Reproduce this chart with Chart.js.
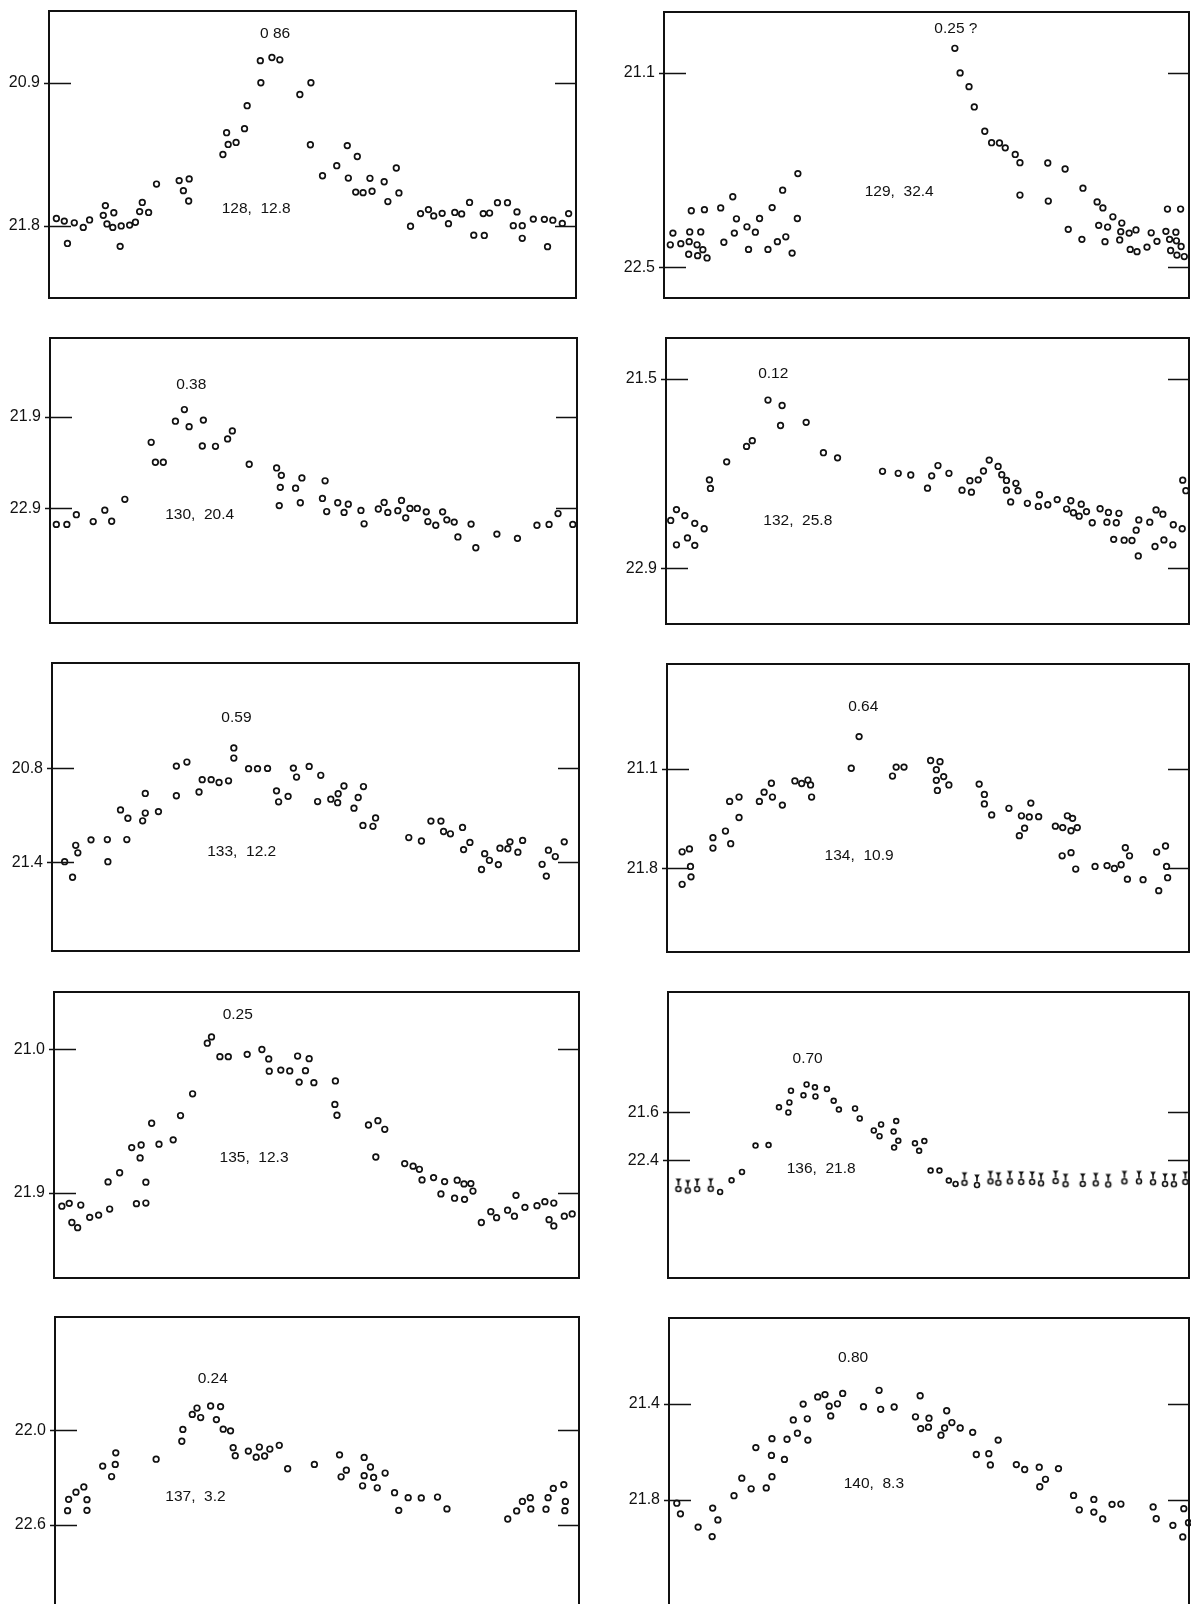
<!DOCTYPE html>
<html>
<head>
<meta charset="utf-8">
<script src="https://cdn.jsdelivr.net/npm/chart.js@4.4.1/dist/chart.umd.min.js"></script>
<style>
  html, body { margin: 0; padding: 0; background: #fff; width: 1191px; height: 1604px; overflow: hidden; }
  canvas { position: absolute; }
</style>
</head>
<body>
<script>
// phase (0-100 across the frame) vs. brightness (0-100 up the frame)

const p128 = [[1.4,27.7],[2.9,26.8],[3.5,19.0],[4.8,26.2],[6.5,24.6],[7.7,27.2],[10.3,28.8],[10.7,32.2],[11.0,25.8],[12.1,24.6],[12.3,29.7],[13.5,18.0],[13.7,25.1],[15.3,25.4],[16.4,26.4],[17.2,30.1],[17.7,33.3],[18.9,29.8],[20.4,39.7],[24.7,40.9],[25.5,37.4],[26.6,41.5],[26.5,33.8],[33.0,50.0],[33.7,57.6],[34.0,53.5],[35.5,54.2],[37.1,59.0],[37.6,67.0],[40.1,82.7],[40.2,75.0],[42.3,83.8],[43.8,83.0],[47.6,70.9],[49.7,75.0],[49.6,53.4],[51.9,42.6],[54.6,46.1],[56.6,53.1],[56.8,41.8],[58.5,49.3],[58.2,36.9],[59.6,36.7],[60.9,41.7],[61.3,37.2],[63.6,40.5],[64.3,33.6],[65.9,45.3],[66.4,36.6],[68.6,25.0],[70.5,29.4],[72.0,30.8],[73.0,28.6],[74.6,29.5],[75.8,25.9],[77.0,29.8],[78.3,29.3],[79.8,33.3],[80.6,21.9],[82.4,29.4],[82.6,21.8],[83.6,29.6],[85.1,33.2],[87.0,33.2],[88.8,30.0],[88.1,25.2],[89.8,25.2],[89.8,20.8],[91.9,27.5],[94.0,27.4],[94.6,17.9],[95.6,27.1],[97.4,26.0],[98.6,29.4]];
const ticks128 = [75.0, 25.1];
const labels128 = ['20.9', '21.8'];

const p129 = [[1.2,18.6],[1.7,22.7],[3.2,19.0],[4.8,19.7],[4.9,23.1],[5.2,30.5],[4.7,15.3],[6.3,18.6],[6.4,14.8],[7.0,23.1],[7.4,16.9],[7.7,30.9],[8.2,14.0],[10.8,31.5],[11.4,19.5],[13.1,35.4],[13.4,22.7],[13.8,27.7],[15.8,24.9],[16.1,17.0],[17.4,23.0],[18.2,27.8],[19.8,17.0],[20.6,31.6],[21.6,19.7],[22.6,37.7],[23.2,21.4],[24.4,15.7],[25.4,27.8],[25.5,43.5],[55.4,87.3],[56.4,78.7],[58.1,73.9],[59.1,66.8],[61.1,58.3],[62.4,54.3],[63.9,54.2],[65.0,52.5],[66.9,50.2],[67.8,47.3],[67.8,36.0],[73.1,47.2],[73.2,33.9],[76.4,45.1],[77.0,24.0],[79.8,38.4],[79.6,20.5],[82.5,33.6],[83.6,31.5],[82.8,25.4],[84.5,24.8],[84.0,19.7],[85.5,28.4],[87.2,26.2],[87.0,23.2],[86.8,20.3],[88.6,22.7],[89.9,23.8],[88.8,17.0],[90.1,16.2],[92.0,17.8],[92.8,22.8],[93.9,19.8],[95.6,23.3],[95.9,31.1],[98.4,31.1],[96.3,20.5],[97.5,23.0],[97.6,20.0],[96.5,16.6],[98.5,18.0],[97.7,15.0],[99.1,14.5]];
const ticks129 = [78.7, 10.8];
const labels129 = ['21.1', '22.5'];

const p130 = [[1.2,34.6],[3.2,34.6],[5.0,38.0],[8.2,35.6],[10.4,39.6],[11.7,35.7],[14.2,43.4],[19.2,63.4],[20.0,56.4],[21.5,56.4],[23.8,70.8],[25.5,74.9],[26.4,68.9],[28.9,62.1],[29.1,71.2],[31.4,62.0],[33.7,64.6],[34.6,67.4],[37.8,55.7],[43.0,54.4],[43.9,51.8],[43.7,47.6],[43.5,41.2],[46.6,47.3],[47.8,50.9],[47.5,42.2],[51.7,43.7],[52.2,49.9],[52.5,39.1],[54.6,42.2],[55.8,38.8],[56.6,41.7],[59.0,39.5],[59.6,34.8],[62.3,40.0],[63.4,42.3],[64.1,38.8],[66.0,39.4],[66.7,43.0],[67.5,36.9],[68.3,40.2],[69.7,40.2],[71.4,39.0],[71.7,35.6],[73.2,34.3],[74.5,39.0],[75.3,36.2],[76.7,35.4],[77.4,30.2],[79.9,34.7],[80.8,26.4],[84.8,31.2],[88.7,29.7],[92.4,34.3],[94.7,34.6],[96.4,38.4],[99.2,34.6]];
const ticks130 = [72.3, 40.2];
const labels130 = ['21.9', '22.9'];

const p132 = [[0.9,36.2],[2.0,40.0],[2.0,27.7],[3.6,37.9],[4.1,30.1],[5.5,35.2],[5.5,27.5],[7.3,33.3],[8.3,50.4],[8.5,47.4],[11.6,56.7],[15.4,62.1],[16.5,64.1],[19.5,78.3],[22.2,76.4],[21.9,69.4],[26.8,70.5],[30.1,59.9],[32.8,58.1],[41.4,53.4],[44.4,52.7],[46.8,52.1],[50.0,47.5],[50.8,51.8],[52.0,55.4],[54.1,52.7],[56.6,46.8],[58.1,50.1],[58.4,46.1],[59.7,50.4],[60.7,53.5],[61.8,57.3],[63.5,55.1],[64.2,52.2],[65.1,50.2],[65.1,46.8],[65.9,42.7],[66.9,49.2],[67.3,46.6],[69.1,42.2],[71.2,41.1],[71.4,45.2],[73.0,41.7],[74.8,43.5],[76.6,40.2],[77.4,43.1],[77.9,38.9],[79.0,37.7],[79.4,41.9],[80.4,39.3],[81.5,35.4],[83.0,40.3],[84.3,35.6],[84.6,39.0],[85.6,29.6],[86.1,35.4],[86.6,38.7],[87.6,29.3],[89.1,29.2],[89.9,32.8],[90.4,36.4],[90.3,23.8],[92.5,35.6],[93.7,39.9],[93.5,27.1],[95.0,38.4],[95.2,29.4],[96.9,27.7],[97.0,34.7],[98.7,33.3],[98.8,50.3],[99.4,46.6]];
const ticks132 = [85.7, 19.5];
const labels132 = ['21.5', '22.9'];

const p133 = [[2.4,31.0],[3.9,25.6],[4.5,36.7],[4.9,34.1],[7.4,38.6],[10.5,38.7],[10.6,31.0],[13.0,49.0],[14.2,38.7],[14.4,46.1],[17.2,45.2],[17.7,54.7],[17.7,47.9],[20.2,48.4],[23.6,64.2],[23.6,53.9],[25.6,65.6],[27.9,55.2],[28.5,59.5],[30.2,59.5],[31.7,58.5],[33.5,59.1],[34.5,70.5],[34.5,67.0],[37.3,63.3],[39.0,63.3],[40.9,63.4],[42.6,55.6],[43.0,51.8],[44.8,53.7],[45.8,63.5],[46.4,60.4],[48.8,64.1],[50.4,51.9],[51.0,61.0],[52.9,52.7],[54.2,51.5],[54.3,54.6],[55.4,57.3],[57.3,49.6],[58.1,53.3],[59.1,57.1],[59.0,43.6],[60.9,43.3],[61.4,46.2],[67.7,39.4],[70.1,38.2],[71.9,45.1],[73.8,45.1],[74.3,41.5],[75.6,40.7],[77.9,42.9],[78.1,35.2],[79.3,37.7],[81.5,28.3],[82.1,33.8],[83.0,31.5],[84.7,30.0],[85.0,35.7],[86.5,35.5],[86.9,37.9],[88.4,34.3],[89.3,38.4],[93.0,30.1],[93.8,26.0],[94.2,35.0],[95.5,32.8],[97.2,37.9]];
const ticks133 = [63.4, 30.8];
const labels133 = ['20.8', '21.4'];

const p134 = [[2.9,34.8],[2.9,23.5],[4.3,35.8],[4.5,29.7],[4.6,26.1],[8.8,39.7],[8.8,36.1],[11.2,42.0],[12.2,37.6],[12.0,52.3],[13.8,53.8],[13.8,46.7],[17.7,52.3],[18.6,55.5],[20.0,58.6],[20.2,53.8],[22.1,51.0],[24.5,59.4],[25.8,58.5],[27.0,59.7],[27.5,58.0],[27.7,53.8],[35.3,63.8],[36.8,74.8],[43.2,61.1],[43.9,64.2],[45.4,64.2],[50.5,66.5],[52.3,66.1],[51.6,63.3],[51.6,59.6],[53.0,60.9],[51.8,56.1],[54.0,58.0],[59.8,58.3],[60.8,54.7],[60.8,51.4],[62.2,47.6],[65.5,49.9],[67.9,47.3],[69.7,51.7],[69.4,46.9],[71.2,47.0],[68.5,43.0],[67.5,40.4],[74.4,43.7],[75.8,43.2],[76.7,47.3],[77.7,46.4],[77.4,42.1],[78.6,43.2],[75.7,33.4],[77.4,34.5],[78.3,28.8],[82.0,29.7],[84.3,30.0],[85.7,29.0],[87.0,30.3],[87.8,36.2],[88.6,33.4],[88.2,25.3],[91.2,25.1],[93.8,34.7],[95.5,36.8],[95.7,29.7],[95.9,25.8],[94.2,21.3]];
const ticks134 = [63.6, 29.0];
const labels134 = ['21.1', '21.8'];

const p135 = [[1.5,25.1],[2.9,26.1],[3.4,19.4],[4.5,17.6],[5.1,25.5],[6.8,21.2],[8.5,22.0],[10.3,33.6],[10.6,24.1],[12.5,36.8],[14.8,45.6],[16.6,46.5],[16.4,42.0],[17.5,33.5],[15.7,26.0],[17.5,26.2],[18.6,54.1],[20.0,46.8],[22.7,48.3],[24.1,56.8],[26.4,64.4],[29.2,82.1],[30.0,84.3],[31.6,77.4],[33.2,77.4],[36.8,78.2],[39.6,79.9],[40.9,76.6],[41.0,72.3],[43.2,72.7],[44.9,72.4],[46.4,77.6],[46.7,68.5],[47.9,72.5],[48.6,76.7],[49.5,68.3],[53.6,68.9],[53.5,60.7],[53.9,56.9],[59.9,53.5],[61.7,55.0],[63.0,52.0],[61.3,42.3],[66.8,40.0],[68.4,39.1],[69.6,38.0],[70.1,34.3],[72.3,35.1],[74.4,33.7],[73.7,29.4],[76.8,34.2],[78.1,32.9],[79.4,33.0],[79.8,30.4],[76.3,27.9],[78.2,27.5],[81.4,19.4],[83.2,23.2],[84.3,21.1],[86.4,23.7],[87.7,21.6],[88.0,28.9],[89.7,24.7],[92.0,25.3],[93.5,26.7],[94.3,20.4],[95.2,18.2],[95.2,26.2],[97.2,21.6],[98.7,22.4]];
const ticks135 = [79.9, 29.8];
const labels135 = ['21.0', '21.9'];

const p136 = [[10.0,30.1],[12.2,34.2],[14.2,37.1],[16.8,46.3],[19.3,46.5],[21.3,59.7],[23.1,57.9],[23.3,61.4],[23.6,65.5],[26.0,63.9],[26.6,67.7],[28.2,66.7],[28.3,63.5],[30.5,66.1],[31.8,62.0],[32.8,58.9],[35.9,59.3],[36.8,55.8],[39.5,51.6],[40.6,49.6],[40.9,53.7],[43.3,51.2],[43.8,54.9],[43.4,45.6],[44.2,48.0],[47.4,47.1],[49.2,47.9],[48.2,44.5],[50.4,37.6],[52.1,37.6],[53.9,34.1],[55.2,32.9]];
// points marked as limits (arrow above the circle)
const p136lim = [[2.0,31.1],[3.8,30.6],[5.6,31.1],[8.2,31.2],[56.9,33.3],[59.3,32.5],[61.9,33.8],[63.4,33.3],[65.6,33.8],[67.8,33.6],[69.9,33.6],[71.6,33.1],[74.4,33.9],[76.3,32.8],[79.6,32.9],[82.1,33.1],[84.5,32.7],[87.6,33.8],[90.4,33.8],[93.1,33.5],[95.4,32.9],[97.1,32.8],[99.3,33.6]];
const ticks136 = [58.0, 41.1];
const labels136 = ['21.6', '22.4'];

const p137 = [[2.4,33.0],[2.6,36.9],[4.0,39.4],[5.5,41.2],[6.1,36.8],[6.1,33.1],[9.1,48.4],[10.8,44.8],[11.5,49.0],[11.6,53.0],[19.3,50.8],[24.2,57.0],[24.4,61.1],[26.2,66.3],[27.1,68.5],[27.8,65.2],[29.7,69.2],[31.6,69.0],[30.8,64.5],[32.1,61.2],[33.5,60.6],[34.0,54.8],[34.4,52.0],[36.9,53.6],[38.4,51.5],[39.0,55.0],[40.0,51.9],[41.0,54.3],[42.8,55.6],[44.4,47.5],[49.5,49.0],[54.3,52.3],[54.6,44.7],[55.6,47.0],[59.0,51.4],[60.2,48.1],[59.0,45.1],[60.8,44.5],[58.7,41.6],[61.5,40.9],[63.0,46.0],[64.8,39.2],[65.6,33.1],[67.4,37.5],[69.9,37.4],[73.0,37.7],[74.8,33.6],[86.4,30.1],[88.1,32.9],[89.2,36.2],[90.7,37.5],[90.8,33.6],[93.7,33.5],[94.1,37.5],[95.1,40.7],[97.1,42.0],[97.4,36.2],[97.3,33.0]];
const ticks137 = [60.8, 28.1];
const labels137 = ['22.0', '22.6'];

const p140 = [[1.5,35.7],[2.2,32.0],[5.6,27.4],[8.4,34.0],[8.3,24.1],[9.4,29.9],[12.5,38.3],[14.0,44.4],[15.8,40.7],[16.7,55.0],[18.7,41.0],[19.8,44.9],[19.7,52.3],[19.8,58.1],[22.2,50.9],[22.7,57.9],[23.9,64.6],[24.7,60.0],[26.6,65.0],[26.7,57.6],[25.8,70.1],[28.6,72.6],[30.0,73.4],[30.8,69.4],[31.1,66.0],[32.4,70.2],[33.4,73.8],[37.4,69.2],[40.4,74.9],[40.7,68.3],[43.3,69.1],[47.4,65.7],[48.3,73.0],[48.4,61.6],[49.9,62.1],[50.0,65.2],[52.3,59.3],[53.0,61.8],[53.4,67.8],[54.4,63.7],[56.0,61.8],[58.4,60.3],[59.1,52.6],[61.5,52.9],[61.8,49.0],[63.3,57.6],[66.8,49.1],[68.4,47.4],[71.2,48.2],[72.4,44.0],[71.3,41.4],[74.9,47.7],[77.8,38.4],[78.9,33.4],[81.7,37.0],[81.7,32.6],[83.4,30.2],[85.2,35.3],[86.9,35.4],[93.1,34.4],[93.7,30.3],[96.9,28.0],[99.0,33.8],[98.8,24.0],[99.9,28.9]];
const ticks140 = [70.3, 36.8];
const labels140 = ['21.4', '21.8'];

// frame = [left, top, right, bottom] in page pixels; notes in data units
const panels = [
  { data: p128, ticks: ticks128, labels: labels128, frame: [49, 11, 576, 298],
    notes: [['0 86', 42.9, 92.1], ['128,  12.8', 39.3, 31.1]] },
  { data: p129, ticks: ticks129, labels: labels129, frame: [664, 12, 1189, 298],
    notes: [['0.25 ?', 55.6, 94.2], ['129,  32.4', 44.8, 37.1]] },
  { data: p130, ticks: ticks130, labels: labels130, frame: [50, 338, 577, 623],
    notes: [['0.38', 26.8, 83.6], ['130,  20.4', 28.4, 37.9]] },
  { data: p132, ticks: ticks132, labels: labels132, frame: [666, 338, 1189, 624],
    notes: [['0.12', 20.5, 87.4], ['132,  25.8', 25.2, 36.1]] },
  { data: p133, ticks: ticks133, labels: labels133, frame: [52, 663, 579, 951],
    notes: [['0.59', 35.0, 80.9], ['133,  12.2', 36.0, 34.5]] },
  { data: p134, ticks: ticks134, labels: labels134, frame: [667, 664, 1189, 952],
    notes: [['0.64', 37.6, 85.3], ['134,  10.9', 36.8, 33.4]] },
  { data: p135, ticks: ticks135, labels: labels135, frame: [54, 992, 579, 1278],
    notes: [['0.25', 35.0, 91.9], ['135,  12.3', 38.1, 42.1]] },
  { data: p136, limits: p136lim, ticks: ticks136, labels: labels136, frame: [668, 992, 1189, 1278], radius: 2.4,
    notes: [['0.70', 26.8, 76.5], ['136,  21.8', 29.4, 38.3]] },
  { data: p137, ticks: ticks137, labels: labels137, frame: [55, 1317, 579, 1606],
    notes: [['0.24', 30.1, 78.7], ['137,  3.2', 26.8, 37.9]] },
  { data: p140, ticks: ticks140, labels: labels140, frame: [669, 1318, 1189, 1606],
    notes: [['0.80', 35.4, 86.2], ['140,  8.3', 39.4, 42.5]] }
];

const INK = '#111';
const FONT = '"Liberation Sans", Arial, sans-serif';
const AXIS_W = 60, PAD = 6;

// circle with a small arrow on top, used as point style for limit points
function arrowMark() {
  const c = document.createElement('canvas');
  c.width = 12; c.height = 28;
  const g = c.getContext('2d');
  g.strokeStyle = INK; g.fillStyle = INK; g.lineWidth = 1.6;
  g.beginPath(); g.arc(6, 14, 2.5, 0, Math.PI * 2); g.stroke();
  g.beginPath(); g.moveTo(6, 10.5); g.lineTo(6, 4.5); g.stroke();
  g.beginPath(); g.moveTo(3.2, 3.5); g.lineTo(8.8, 3.5); g.lineTo(6, 7.5); g.closePath(); g.fill();
  return c;
}

function framePlugin(p) {
  return {
    id: 'frame',
    afterDatasetsDraw(chart) {
      const { ctx, chartArea: a, scales: { x, y } } = chart;
      ctx.save();
      ctx.strokeStyle = INK;
      ctx.lineWidth = 2;
      ctx.strokeRect(a.left, a.top, a.right - a.left, a.bottom - a.top);
      ctx.lineWidth = 1.3;
      p.ticks.forEach(v => {
        const py = Math.round(y.getPixelForValue(v)) + 0.5;
        ctx.beginPath();
        ctx.moveTo(a.left - 5, py); ctx.lineTo(a.left + 22, py);
        ctx.moveTo(a.right - 21, py); ctx.lineTo(a.right, py);
        ctx.stroke();
      });
      ctx.fillStyle = INK;
      ctx.font = '15.5px ' + FONT;
      ctx.textAlign = 'center';
      ctx.textBaseline = 'middle';
      p.notes.forEach(([t, nx, ny]) => ctx.fillText(t, x.getPixelForValue(nx), y.getPixelForValue(ny)));
      ctx.restore();
    }
  };
}

panels.forEach(p => {
  const [l, t, r, b] = p.frame;
  const cv = document.createElement('canvas');
  cv.width = r - l + AXIS_W + PAD;
  cv.height = b - t + 2 * PAD;
  cv.style.left = (l - AXIS_W) + 'px';
  cv.style.top = (t - PAD) + 'px';
  document.body.appendChild(cv);

  const datasets = [{
    data: p.data.map(([x, y]) => ({ x, y })),
    pointStyle: 'circle',
    pointRadius: p.radius || 2.8,
    pointBorderWidth: 1.7,
    pointBorderColor: INK,
    pointBackgroundColor: 'rgba(255,255,255,0)',
    clip: false
  }];
  if (p.limits) {
    datasets.push({
      data: p.limits.map(([x, y]) => ({ x, y })),
      pointStyle: arrowMark(),
      clip: false
    });
  }

  new Chart(cv.getContext('2d'), {
    type: 'scatter',
    data: { datasets },
    options: {
      responsive: false,
      animation: false,
      devicePixelRatio: 1,
      layout: { padding: { left: 0, right: PAD, top: PAD, bottom: PAD } },
      plugins: { legend: { display: false }, tooltip: { enabled: false } },
      scales: {
        x: { type: 'linear', min: 0, max: 100, display: false },
        y: {
          type: 'linear', min: 0, max: 100,
          afterBuildTicks: axis => { axis.ticks = p.ticks.map(v => ({ value: v })); },
          afterFit: axis => {
            axis.width = AXIS_W;
            axis.paddingTop = 0;
            axis.paddingBottom = 0;
          },
          grid: { display: false, drawTicks: false },
          border: { display: false },
          ticks: {
            padding: 9,
            color: INK,
            font: { family: FONT, size: 16 },
            callback: v => p.labels[p.ticks.indexOf(v)]
          }
        }
      }
    },
    plugins: [framePlugin(p)]
  });
});
</script>
</body>
</html>
